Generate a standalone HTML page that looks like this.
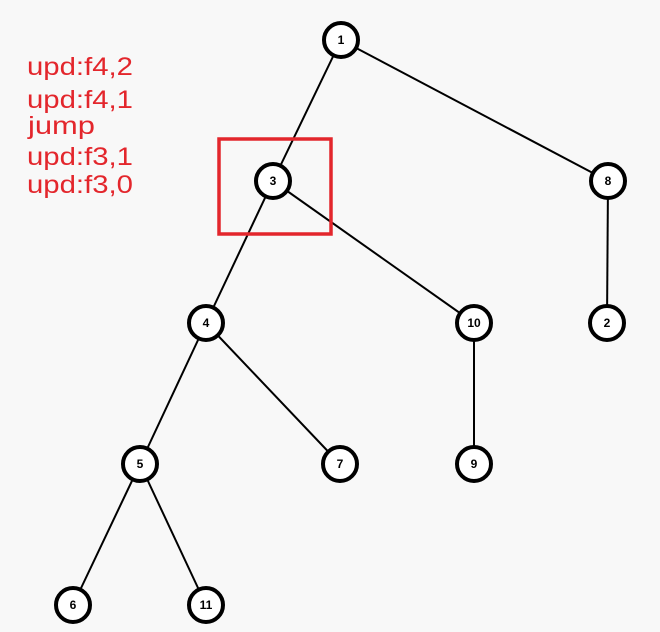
<!DOCTYPE html>
<html><head><style>
body{margin:0;background:#f8f8f8;}
svg{display:block}
.t{font-family:"Liberation Sans",sans-serif;fill:#e3262c;font-size:25px}
.n{font-family:"Liberation Sans",sans-serif;font-size:12px;font-weight:bold;text-anchor:middle}
</style></head><body>
<svg width="660" height="632" xmlns="http://www.w3.org/2000/svg">
<rect width="660" height="632" fill="#f8f8f8"/>
<g stroke="#000" stroke-width="2">
<line x1="341" y1="40" x2="273" y2="181"/>
<line x1="341" y1="40" x2="608" y2="181"/>
<line x1="273" y1="181" x2="206" y2="323"/>
<line x1="273" y1="181" x2="474" y2="323"/>
<line x1="608" y1="181" x2="607" y2="323"/>
<line x1="206" y1="323" x2="140" y2="464"/>
<line x1="206" y1="323" x2="340" y2="464"/>
<line x1="474" y1="323" x2="474" y2="464"/>
<line x1="140" y1="464" x2="73" y2="605"/>
<line x1="140" y1="464" x2="206" y2="605"/>
</g>
<rect x="219" y="139" width="112" height="95" fill="none" stroke="#e3262c" stroke-width="3.5"/>
<g fill="#fff" stroke="#000" stroke-width="4">
<circle cx="341" cy="40" r="17"/><circle cx="273" cy="181" r="17"/><circle cx="608" cy="181" r="17"/>
<circle cx="206" cy="323" r="17"/><circle cx="474" cy="323" r="17"/><circle cx="607" cy="323" r="17"/>
<circle cx="140" cy="464" r="17"/><circle cx="340" cy="464" r="17"/><circle cx="474" cy="464" r="17"/>
<circle cx="73" cy="605" r="17"/><circle cx="206" cy="605" r="17"/>
</g>
<g class="n">
<text x="341" y="44">1</text><text x="273" y="185">3</text><text x="608" y="185">8</text>
<text x="206" y="327">4</text><text x="474" y="327">10</text><text x="607" y="327">2</text>
<text x="140" y="468">5</text><text x="340" y="468">7</text><text x="474" y="468">9</text>
<text x="73" y="609">6</text><text x="206" y="609">11</text>
</g>
<text class="t" x="27" y="75" textLength="106" lengthAdjust="spacingAndGlyphs">upd:f4,2</text>
<text class="t" x="27" y="108" textLength="106" lengthAdjust="spacingAndGlyphs">upd:f4,1</text>
<text class="t" x="28" y="134" textLength="67" lengthAdjust="spacingAndGlyphs">jump</text>
<text class="t" x="27" y="165" textLength="106" lengthAdjust="spacingAndGlyphs">upd:f3,1</text>
<text class="t" x="27" y="193" textLength="106" lengthAdjust="spacingAndGlyphs">upd:f3,0</text>
</svg>
</body></html>
